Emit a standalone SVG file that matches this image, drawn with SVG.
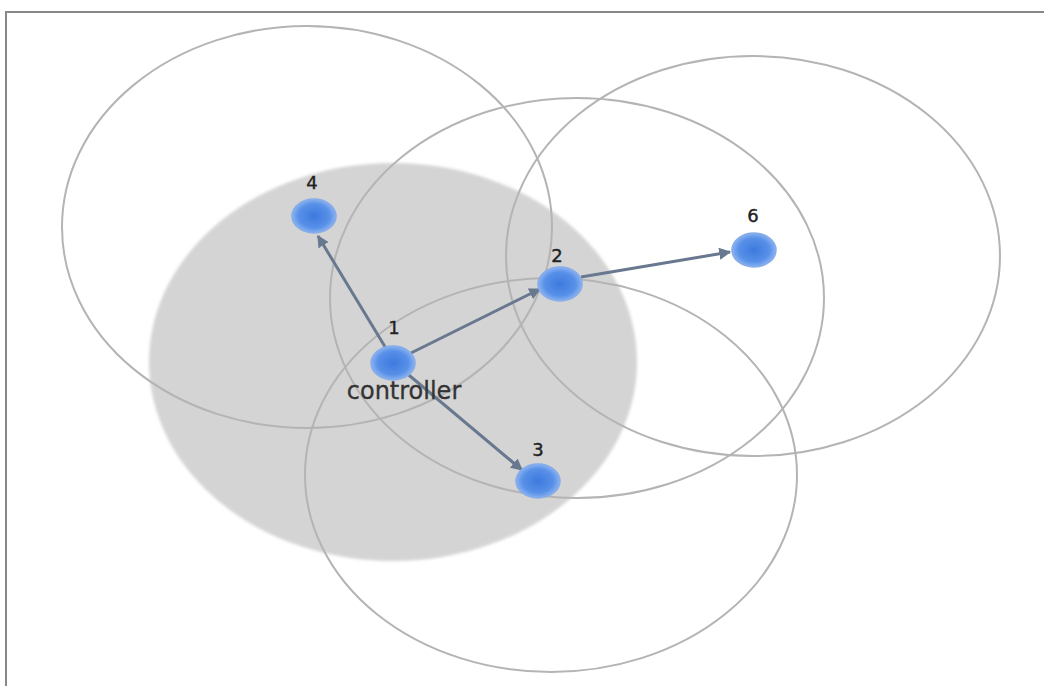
<svg xmlns="http://www.w3.org/2000/svg" width="1044" height="686" viewBox="0 0 1044 686">
  <style>
    .range { fill: none; stroke: #b4b4b4; stroke-width: 2; }
    .node { fill: url(#nodeFill); stroke: #86acea; stroke-width: 1.5; }
    .link { stroke: #68788f; stroke-width: 3; fill: none; marker-end: url(#head); }
    .num { font-family: "DejaVu Sans", Verdana, sans-serif; font-size: 18px; fill: #222; text-anchor: middle; stroke: #222; stroke-width: 0.4; }
    .cap { font-family: "DejaVu Sans", Verdana, sans-serif; font-size: 24px; fill: #333; text-anchor: middle; stroke: #333; stroke-width: 0.3; }
  </style>
  <defs>
    <radialGradient id="nodeFill" cx="0.5" cy="0.5" r="0.5">
      <stop offset="0" stop-color="#3d7ade"/>
      <stop offset="0.7" stop-color="#5890e8"/>
      <stop offset="1" stop-color="#8ab2f0"/>
    </radialGradient>
    <filter id="soft" x="-5%" y="-5%" width="110%" height="110%">
      <feGaussianBlur stdDeviation="1.5"/>
    </filter>
    <marker id="head" viewBox="0 0 10 10" refX="9" refY="5" markerWidth="4" markerHeight="4" orient="auto" markerUnits="strokeWidth">
      <path d="M0,0 L10,5 L0,10 z" fill="#68788f"/>
    </marker>
  </defs>

  <rect width="1044" height="686" fill="#ffffff"/>
  <!-- frame -->
  <path d="M6,686 V12 H1044" fill="none" stroke="#888" stroke-width="2"/>

  <!-- shaded coverage of the controller -->
  <ellipse cx="393" cy="362" rx="244" ry="199" fill="#d4d4d4" filter="url(#soft)"/>

  <!-- radio ranges -->
  <g id="ranges">
    <ellipse class="range" cx="307" cy="227" rx="245" ry="201"/>
    <ellipse class="range" cx="577" cy="298" rx="247" ry="200"/>
    <ellipse class="range" cx="753" cy="256" rx="247" ry="200"/>
    <ellipse class="range" cx="551" cy="475" rx="246" ry="197"/>
  </g>

  <!-- links -->
  <g id="connectors">
    <line class="link" x1="387" y1="350" x2="318" y2="236"/>
    <line class="link" x1="411" y1="353" x2="540" y2="289"/>
    <line class="link" x1="581" y1="277" x2="730" y2="252"/>
    <line class="link" x1="404" y1="371" x2="522" y2="470"/>
  </g>

  <g id="node4">
    <ellipse class="node" cx="314" cy="216" rx="22" ry="17"/>
    <text class="num" x="312" y="189">4</text>
  </g>
  <g id="node1">
    <ellipse class="node" cx="393" cy="363" rx="22" ry="17"/>
    <text class="num" x="394" y="334">1</text>
    <text class="cap" x="404" y="399">controller</text>
  </g>
  <g id="node2">
    <ellipse class="node" cx="560" cy="284" rx="22" ry="17"/>
    <text class="num" x="557" y="262">2</text>
  </g>
  <g id="node6">
    <ellipse class="node" cx="754" cy="250" rx="22" ry="17"/>
    <text class="num" x="753" y="222">6</text>
  </g>
  <g id="node3">
    <ellipse class="node" cx="538" cy="481" rx="22" ry="17"/>
    <text class="num" x="538" y="456">3</text>
  </g>
</svg>
